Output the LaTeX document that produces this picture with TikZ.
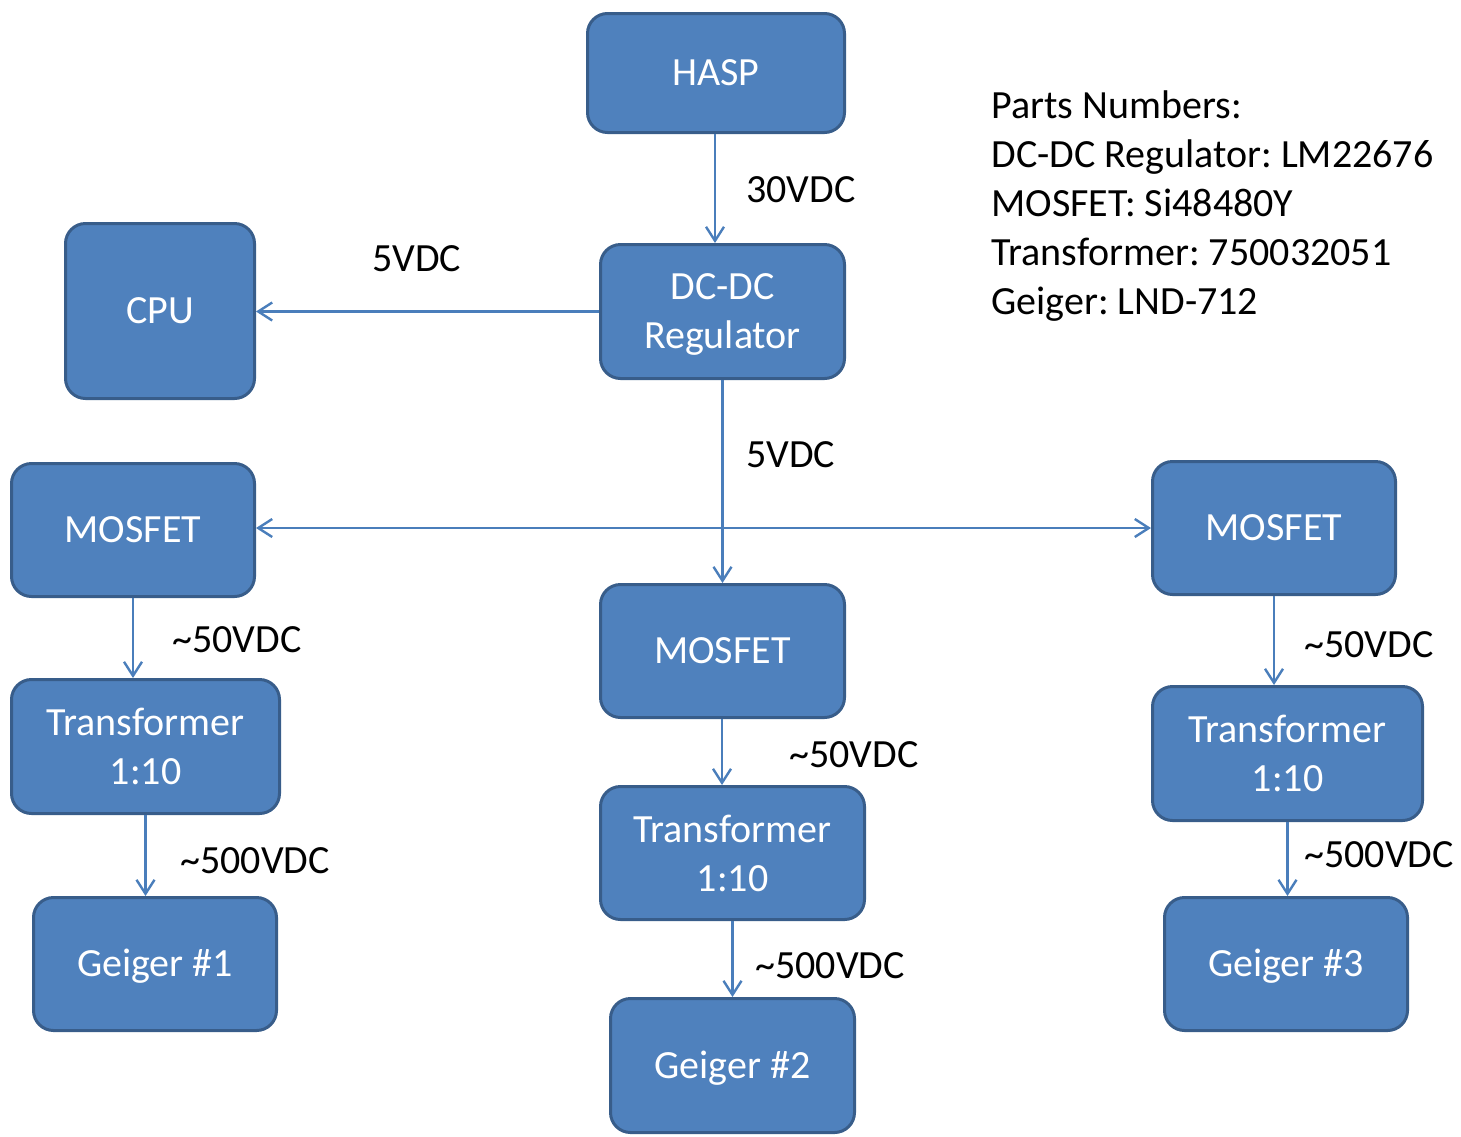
\documentclass[tikz,border=0pt]{standalone}
\usepackage{fontspec}
\setmainfont{Carlito}
\usetikzlibrary{arrows.meta}
\definecolor{boxfill}{HTML}{4F81BD}
\definecolor{boxline}{HTML}{385D8A}
\definecolor{wire}{HTML}{4A7EBB}
\frenchspacing
\begin{document}
\begin{tikzpicture}[x=0.5pt,y=-0.5pt,
  blk/.style={draw=boxline, fill=boxfill, line width=1.5pt, rounded corners=10pt,
    text=white, font=\fontsize{20}{24.5}\selectfont, align=center, inner sep=0pt},
  one/.style={text height=12.9pt, text depth=0pt},
  lbl/.style={anchor=base west, inner sep=0pt, font=\fontsize{20}{24.5}\selectfont},
  arr/.style={draw=wire, line width=1.2pt, -{Straight Barb[length=7pt,width=9pt]}},
  arr2/.style={draw=wire, line width=1.2pt, {Straight Barb[length=7pt,width=9pt]}-{Straight Barb[length=7pt,width=9pt]}},
  ]
\useasboundingbox (0,0) rectangle (1461,1136);

\node[blk, one, minimum width=128.5pt, minimum height=59.5pt] (hasp) at (716,73) {HASP};
\node[blk, minimum width=122pt, minimum height=67pt] (dcdc) at (722.5,311.5) {DC-DC\\Re\smash{g}ulator};
\node[blk, one, minimum width=94.5pt, minimum height=87.5pt] (cpu) at (160,311) {CPU};
\node[blk, one, minimum width=121.5pt, minimum height=66.5pt] (m1) at (133,530) {MOSFET};
\node[blk, one, minimum width=122pt, minimum height=66.5pt] (m2) at (722.5,651) {MOSFET};
\node[blk, one, minimum width=121.5pt, minimum height=66.5pt] (m3) at (1274,528) {MOSFET};
\node[blk, minimum width=134pt, minimum height=67pt] (t1) at (145.5,746.5) {Transformer\\1:10};
\node[blk, minimum width=132pt, minimum height=66.5pt] (t2) at (732.5,853) {Transformer\\1:10};
\node[blk, minimum width=135pt, minimum height=67pt] (t3) at (1287.5,753.5) {Transformer\\1:10};
\node[blk, one, minimum width=121.5pt, minimum height=66.5pt] (g1) at (155,964) {Geiger \#1};
\node[blk, one, minimum width=122pt, minimum height=67pt] (g2) at (732.5,1065.5) {Geiger \#2};
\node[blk, one, minimum width=121.5pt, minimum height=66.5pt] (g3) at (1286,964) {Geiger \#3};

\coordinate (hx) at (715,0);
\draw[arr] (hasp.south -| hx) -- (dcdc.north -| hx);
\draw[arr] (dcdc.west) -- (cpu.east |- dcdc.west);
\draw[arr] (dcdc.south) -- (m2.north);
\coordinate (hy) at (0,528);
\draw[arr2] (m1.east |- hy) -- (m3.west |- hy);
\draw[arr] (m1.south) -- (t1.north -| m1.south);
\draw[arr] (t1.south) -- (g1.north -| t1.south);
\coordinate (cx) at (722,0);
\draw[arr] (m2.south -| cx) -- (t2.north -| cx);
\draw[arr] (t2.south) -- (g2.north -| t2.south);
\draw[arr] (m3.south) -- (t3.north -| m3.south);
\draw[arr] (t3.south) -- (g3.north -| t3.south);

\node[lbl] (l1) at (746,202) {30VDC};
\node[lbl] (l2) at (372,271) {5VDC};
\node[lbl] (l3) at (746,467) {5VDC};
\node[lbl] (l4) at (172,652) {\textasciitilde 50VDC};
\node[lbl] (l5) at (180,873) {\textasciitilde 500VDC};
\node[lbl] (l6) at (789,767) {\textasciitilde 50VDC};
\node[lbl] (l7) at (755,978) {\textasciitilde 500VDC};
\node[lbl] (l8) at (1304,657) {\textasciitilde 50VDC};
\node[lbl] (l9) at (1304,867) {\textasciitilde 500VDC};

\node[lbl] (p1) at (991,118) {Parts Numbers:};
\node[lbl] (p2) at (991,167) {DC-DC Regulator: LM22676};
\node[lbl] (p3) at (991,216) {MOSFET: Si48480Y};
\node[lbl] (p4) at (991,265) {Transformer: 750032051};
\node[lbl] (p5) at (991,314) {Geiger: LND-712};
\end{tikzpicture}
\end{document}
